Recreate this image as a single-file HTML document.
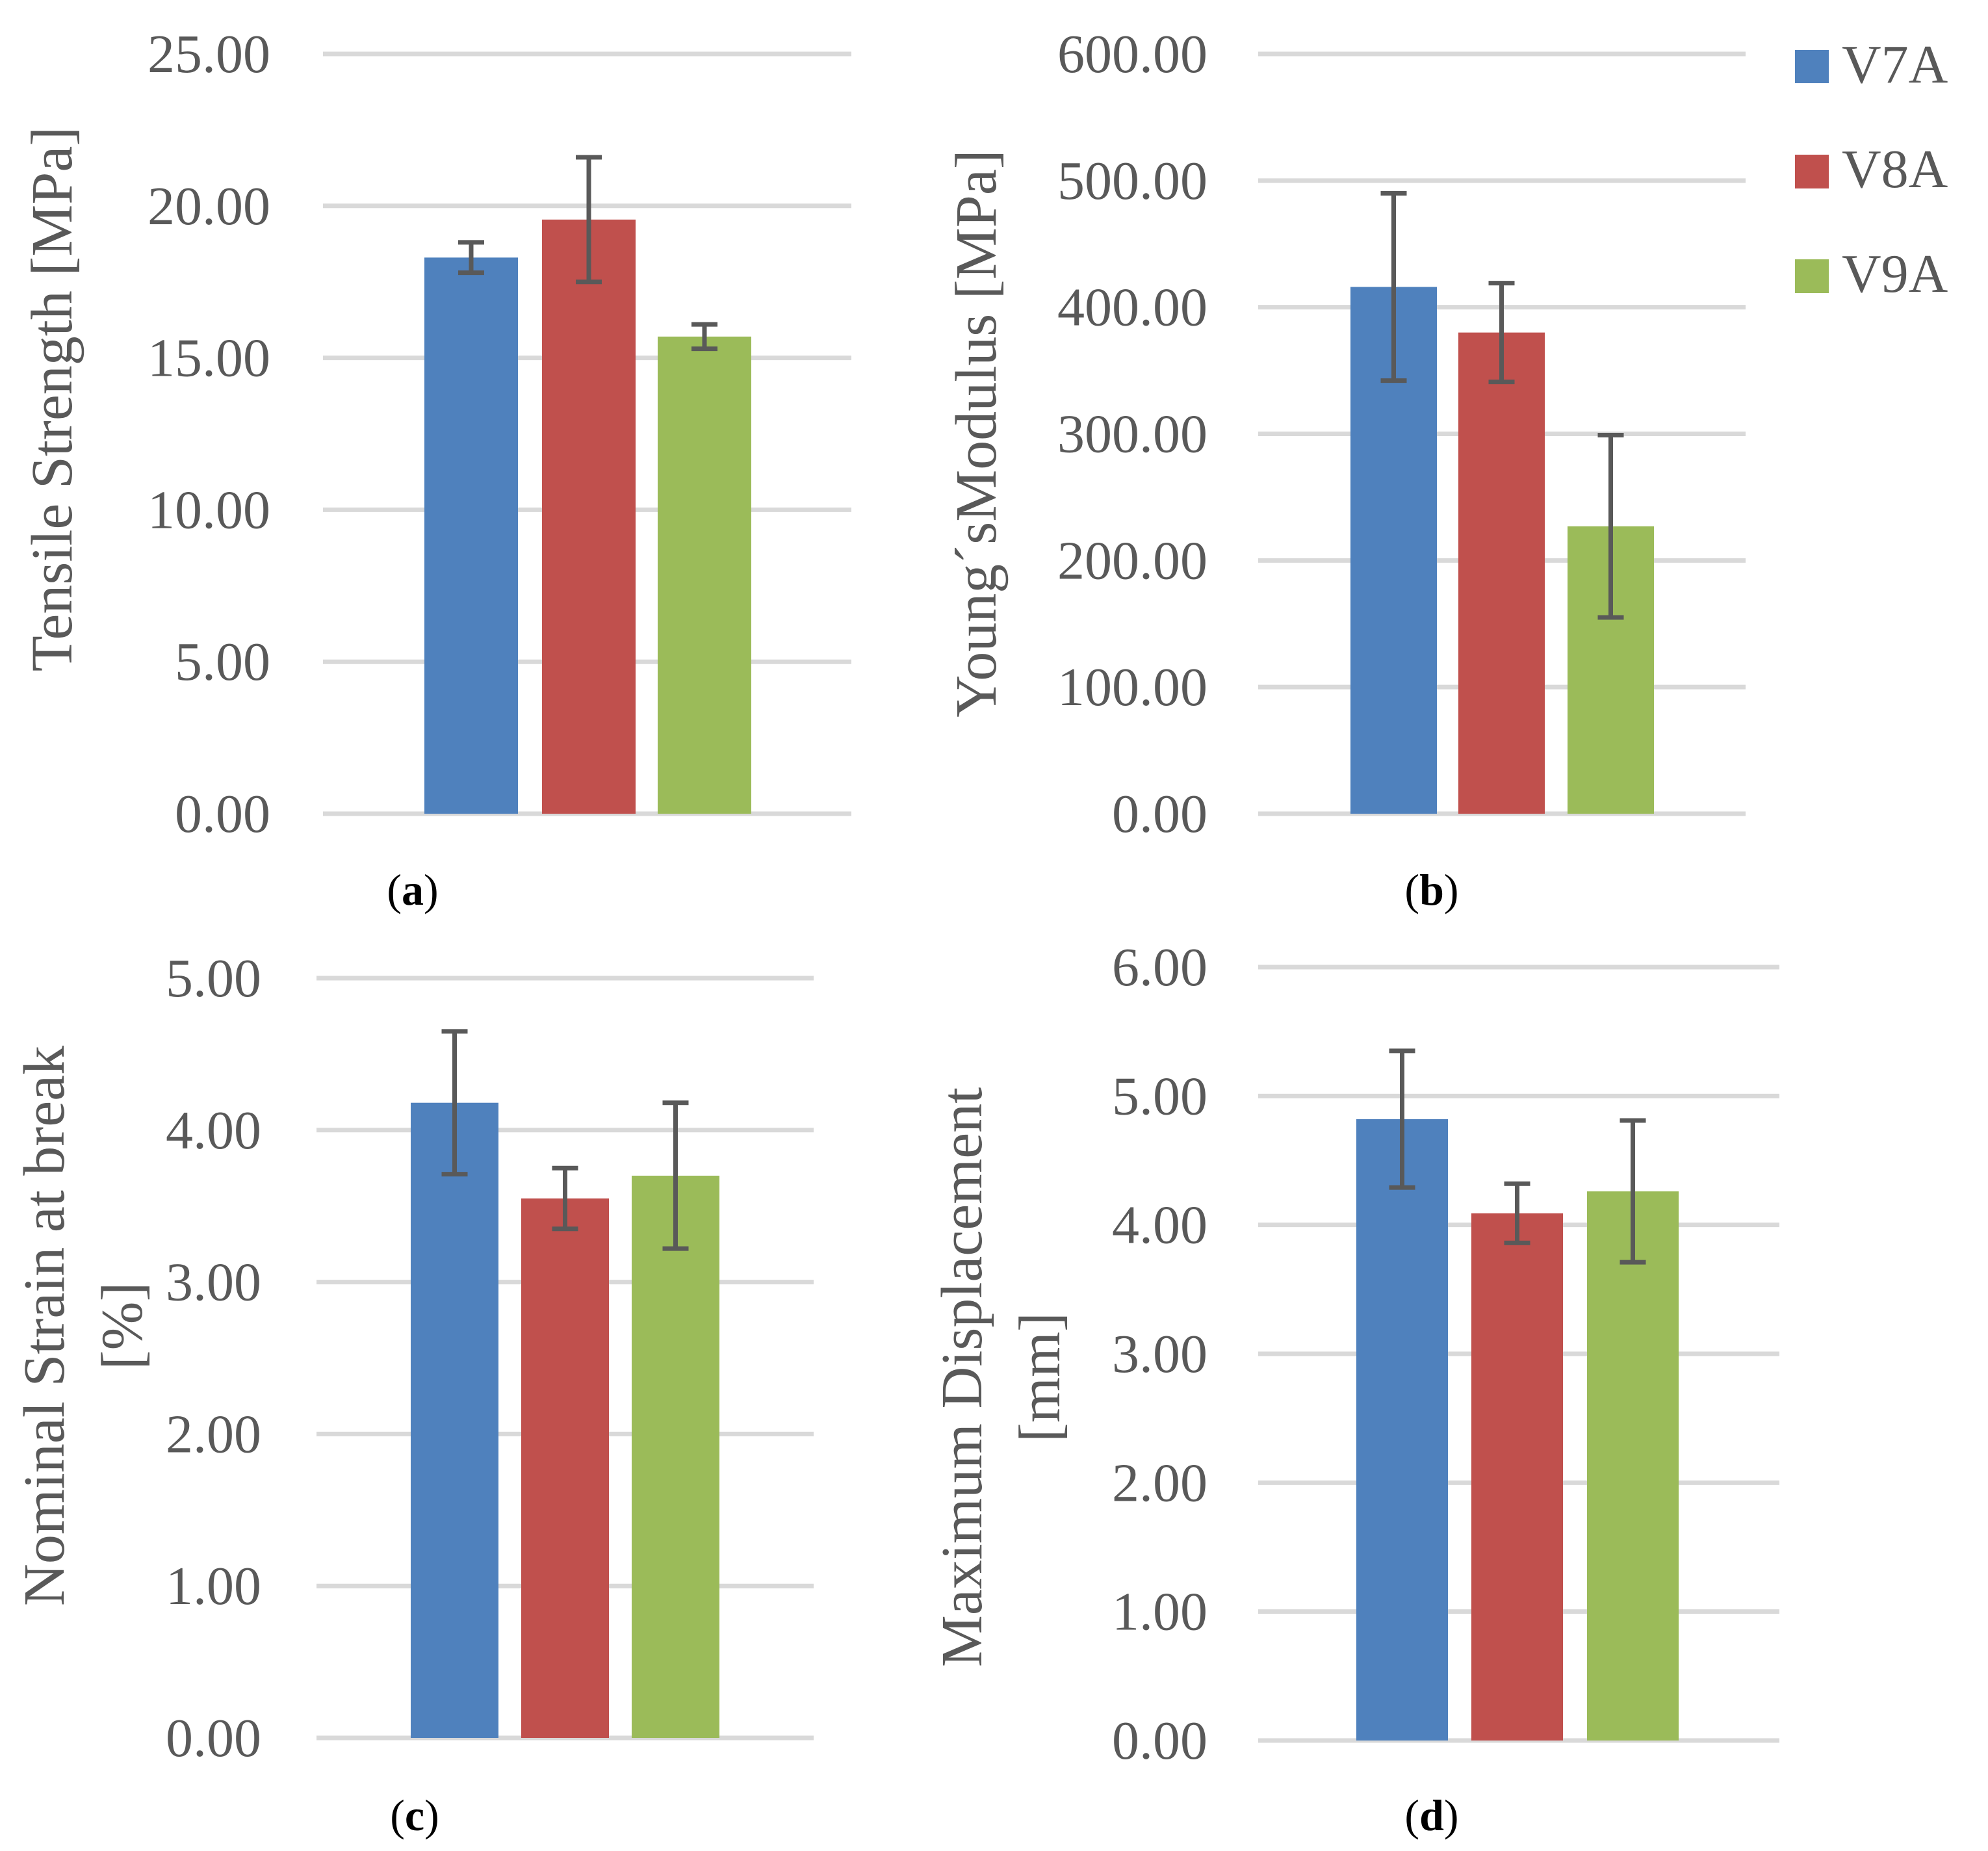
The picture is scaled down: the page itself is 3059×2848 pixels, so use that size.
<!DOCTYPE html>
<html><head><meta charset="utf-8"><style>
html,body{margin:0;padding:0;background:#fff}
svg{display:block}
text{font-family:"Liberation Serif","DejaVu Serif",serif;fill:#595959}
</style></head><body>
<svg id="fig" width="3059" height="2848" viewBox="0 0 3059 2848" xmlns="http://www.w3.org/2000/svg">
<g>
<g><rect x="2762" y="77" width="52" height="51" fill="#4f81bd"/><text x="2834" y="127" font-size="84">V7A</text></g>
<g><rect x="2762" y="238" width="52" height="52" fill="#c0504d"/><text x="2834" y="288" font-size="84">V8A</text></g>
<g><rect x="2762" y="399" width="52" height="52" fill="#9bbb59"/><text x="2834" y="449" font-size="84">V9A</text></g>
</g>
</svg>
<script>
const seriesNames = ["V7A","V8A","V9A"];
const colors = ["#4f81bd","#c0504d","#9bbb59"];
const tensileValues = [18.3, 19.55, 15.7];
const tensileErr = [0.5, 2.05, 0.4];
const tensileTicks = ["0.00","5.00","10.00","15.00","20.00","25.00"];
const modulusValues = [416, 380, 227];
const modulusErr = [74, 39, 72];
const modulusTicks = ["0.00","100.00","200.00","300.00","400.00","500.00","600.00"];
const strainValues = [4.18, 3.55, 3.70];
const strainErr = [0.47, 0.20, 0.48];
const strainTicks = ["0.00","1.00","2.00","3.00","4.00","5.00"];
const dispValues = [4.82, 4.09, 4.26];
const dispErr = [0.53, 0.23, 0.55];
const dispTicks = ["0.00","1.00","2.00","3.00","4.00","5.00","6.00"];

const NS = "http://www.w3.org/2000/svg";
const svg = document.getElementById('fig');
function mk(tag, attrs, parent){const e=document.createElementNS(NS,tag);for(const k in attrs)e.setAttribute(k,attrs[k]);parent.appendChild(e);return e;}

function panel(cfg){
  const g = mk('g',{},svg);
  
  
  const max = parseFloat(cfg.ticks[cfg.ticks.length-1]);
  const y = v => cfg.y0 - (v/max)*(cfg.y0-cfg.yTop);
  cfg.ticks.forEach((t,i)=>{
    const v = parseFloat(t);
    const gl = mk('line',{x1:cfg.gx0,x2:cfg.gx1,y1:y(v),y2:y(v),stroke:'#d9d9d9','stroke-width':7},g);
    
    
    const tl = mk('text',{x:cfg.tickRight,y:y(v)+28,'font-size':84,'text-anchor':'end'},g);
    tl.textContent = t;
    
    
  });
  cfg.values.forEach((v,i)=>{
    const bx = cfg.bx[i];
    const r = mk('rect',{x:bx,y:y(v),width:cfg.bw,height:cfg.y0-y(v),fill:colors[i]},g);
    
    
    const cx = bx + cfg.bw/2, e = cfg.err[i];
    const eb = mk('path',{d:`M${cx},${y(v+e)}V${y(v-e)}M${cx-20},${y(v+e)}H${cx+20}M${cx-20},${y(v-e)}H${cx+20}`,stroke:'#595959','stroke-width':7,fill:'none'},g);
    
    
  });
  const tt = mk('text',{transform:`translate(${cfg.titleX},${cfg.titleY}) rotate(-90)`,'font-size':90,'text-anchor':'middle'},g);
  
  
  cfg.title.forEach((line,i)=>{const ts=mk('tspan',{x:0,dy:i?120:0},tt);ts.textContent=line;});
  const lb = mk('text',{x:cfg.labelX,y:cfg.labelY,'font-size':68,'text-anchor':'middle',style:'fill:#000'},g);
  
  
  lb.innerHTML = '(<tspan font-weight="bold">'+cfg.label+'</tspan>)';
}

panel({name:'panel-a-tensile-strength',ticks:tensileTicks,values:tensileValues,err:tensileErr,y0:1252,yTop:83,gx0:497,gx1:1310,tickRight:416,bx:[653,834,1012],bw:144,title:['Tensile Strength [MPa]'],titleX:110,titleY:614,label:'a',labelX:635,labelY:1392});
panel({name:'panel-b-youngs-modulus',ticks:modulusTicks,values:modulusValues,err:modulusErr,y0:1252,yTop:83,gx0:1936,gx1:2686,tickRight:1858,bx:[2078,2244,2412],bw:133,title:['Young´sModulus [MPa]'],titleX:1532,titleY:667,label:'b',labelX:2203,labelY:1392});
panel({name:'panel-c-nominal-strain',ticks:strainTicks,values:strainValues,err:strainErr,y0:2674,yTop:1505,gx0:487,gx1:1252,tickRight:402,bx:[632,802,972],bw:135,title:['Nominal Strain at break','[%]'],titleX:98,titleY:2040,label:'c',labelX:638,labelY:2816});
panel({name:'panel-d-max-displacement',ticks:dispTicks,values:dispValues,err:dispErr,y0:2678,yTop:1488,gx0:1936,gx1:2738,tickRight:1858,bx:[2087,2264,2442],bw:141,title:['Maximum Displacement','[mm]'],titleX:1510,titleY:2119,label:'d',labelX:2203,labelY:2816})
</script>
</body></html>
